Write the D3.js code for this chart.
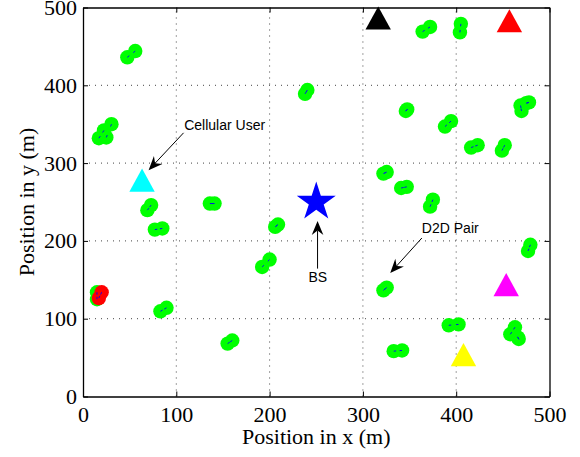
<!DOCTYPE html>
<html>
<head>
<meta charset="utf-8">
<script src="https://cdn.jsdelivr.net/npm/d3@7"></script>
<style>
html,body{margin:0;padding:0;background:#fff;}
svg{display:block;}
svg text.serif{font-family:"Liberation Serif","Times New Roman",Times,serif !important;}
svg text.sans{font-family:"Liberation Sans",Arial,Helvetica,sans-serif !important;}
</style>
</head>
<body>
<svg id="chart" width="580" height="457"></svg>
<script>
// ---- data ----
const xTicks = [0, 100, 200, 300, 400, 500];
const yTicks = [0, 100, 200, 300, 400, 500];
const xLabel = "Position in x (m)";
const yLabel = "Position in y (m)";

// D2D pairs (transmitter / receiver positions, m)
const d2dTxX = [47.5, 17, 25, 238, 322, 364, 404, 346, 388, 416, 449, 470, 475, 341, 372, 69, 77, 136, 15, 83, 155, 206, 192, 322, 333, 477, 392, 463, 467];
const d2dTxY = [436, 332, 333, 389, 286.5, 469, 468, 367, 347, 320, 316, 367, 377, 268, 244, 239.5, 214.5, 248, 134, 109.5, 68, 218, 166.5, 136.5, 58.3, 187, 91.5, 89, 74];
const d2dRxX = [56, 22.5, 30.5, 240.5, 325.5, 372, 405, 347.5, 394.5, 423, 452, 469, 478, 347, 375, 73, 85, 141, 15, 89.5, 160, 209, 200, 325.5, 342, 479.5, 402.5, 458, 466];
const d2dRxY = [444, 342, 350, 394, 288.5, 475, 479, 369, 354, 323, 323, 374, 378, 269.5, 253, 246, 216, 248, 125, 114, 72, 221, 176, 140, 59.2, 195, 92.7, 80, 76];

// highlighted (red) D2D pair
const redTxX = [20];
const redTxY = [134];
const redRxX = [17];
const redRxY = [126.5];

// cellular users
const userX = [63.3, 316.4, 457, 453.6, 407.8];
const userY = [278, 486.5, 483, 143.8, 53.7];

// base station
const bsX = [250];
const bsY = [250];

// annotations: text, text anchor point, arrow start, arrow tip (data coords)
const annoText = ["Cellular User", "BS", "D2D Pair"];
const annoTextX = [108.5, 251.6, 363.2];
const annoTextY = [342, 147.1, 209.8];
const annoFromX = [107.8, 251.4, 363.2];
const annoFromY = [338.9, 164.4, 203.7];
const annoToX = [70.3, 251.4, 329.3];
const annoToY = [290.9, 225.6, 158.7];

// ---- styles ----
const userColors = ["#00ffff", "#000000", "#ff0000", "#ff00ff", "#ffff00"];
const annoAnchor = ["start", "middle", "start"];
const serifFont = "Liberation Serif, Times New Roman, Times, serif";
const sansFont = "Liberation Sans, Arial, Helvetica, sans-serif";

const svg = d3.select("#chart");
const x = d3.scaleLinear().domain([0, 500]).range([83, 549.5]);
const y = d3.scaleLinear().domain([0, 500]).range([396.5, 7.5]);
const x0 = x(0), x1 = x(500), y0 = y(0), y1 = y(500);

// grid
const grid = svg.append("g").attr("stroke", "#444").attr("stroke-width", 1)
  .attr("stroke-dasharray", "1,5").attr("fill", "none");
xTicks.filter(v => v > 0 && v < 500).forEach(v => {
  grid.append("line").attr("x1", x(v)).attr("x2", x(v)).attr("y1", y0).attr("y2", y1);
});
yTicks.filter(v => v > 0 && v < 500).forEach(v => {
  grid.append("line").attr("x1", x0).attr("x2", x1).attr("y1", y(v)).attr("y2", y(v));
});

// axes
const gB = svg.append("g").attr("transform", `translate(0,${y0})`)
  .call(d3.axisBottom(x).tickValues(xTicks).tickSizeInner(-5).tickSizeOuter(0).tickPadding(10));
const gL = svg.append("g").attr("transform", `translate(${x0},0)`)
  .call(d3.axisLeft(y).tickValues(yTicks).tickSizeInner(-5).tickSizeOuter(0).tickPadding(6));
const gT = svg.append("g").attr("transform", `translate(0,${y1})`)
  .call(d3.axisTop(x).tickValues(xTicks).tickSizeInner(-5).tickSizeOuter(0).tickFormat(""));
const gR = svg.append("g").attr("transform", `translate(${x1},0)`)
  .call(d3.axisRight(y).tickValues(yTicks).tickSizeInner(-5).tickSizeOuter(0).tickFormat(""));
[gB, gL, gT, gR].forEach(g => {
  g.attr("font-family", serifFont).attr("font-size", 22);
  g.select(".domain").attr("stroke", "#000").attr("stroke-width", 1.3);
  g.selectAll(".tick line").attr("stroke", "#000").attr("stroke-width", 1);
  g.selectAll(".tick text").attr("class", "serif").attr("fill", "#000")
    .attr("font-family", serifFont).attr("font-size", 22);
});

// D2D pairs
const pairs = d2dTxX.map((v, i) => ({ tx: v, ty: d2dTxY[i], rx: d2dRxX[i], ry: d2dRxY[i], c: "#00ff00" }))
  .concat(redTxX.map((v, i) => ({ tx: v, ty: redTxY[i], rx: redRxX[i], ry: redRxY[i], c: "#ff0000" })));
const gp = svg.append("g");
pairs.forEach(p => {
  gp.append("circle").attr("cx", x(p.tx)).attr("cy", y(p.ty)).attr("r", 7.2).attr("fill", p.c);
  gp.append("circle").attr("cx", x(p.rx)).attr("cy", y(p.ry)).attr("r", 7.2).attr("fill", p.c);
});
pairs.forEach(p => {
  const ax = x(p.tx), ay = y(p.ty), bx = x(p.rx), by = y(p.ry);
  let dx = bx - ax, dy = by - ay; const L = Math.hypot(dx, dy) || 1; dx /= L; dy /= L;
  [[ax, ay, 1], [bx, by, -1]].forEach(([cx, cy, s]) => {
    gp.append("line").attr("x1", cx).attr("y1", cy).attr("x2", cx + s * dx * 2.5).attr("y2", cy + s * dy * 2.5)
      .attr("stroke", "#0000ff").attr("stroke-width", 0.9);
  });
});

// cellular users (triangles)
userX.forEach((v, i) => {
  const cx = x(v), cy = y(userY[i]);
  svg.append("path").attr("d", `M${cx},${cy - 11.6}L${cx + 12.7},${cy + 11.6}L${cx - 12.7},${cy + 11.6}Z`)
    .attr("fill", userColors[i]);
});

// base station (star)
bsX.forEach((v, i) => {
  const cx = x(v), cy = y(bsY[i]);
  const R = 20.5, r = R * 0.382;
  const pts = d3.range(10).map(k => {
    const a = -Math.PI / 2 + k * Math.PI / 5, rr = k % 2 ? r : R;
    return [cx + rr * Math.cos(a), cy + rr * Math.sin(a)];
  });
  svg.append("path").attr("d", "M" + pts.join("L") + "Z").attr("fill", "#0000ff");
});

// annotations
annoText.forEach((t, i) => {
  const fx = x(annoFromX[i]), fy = y(annoFromY[i]), tx = x(annoToX[i]), ty = y(annoToY[i]);
  let dx = tx - fx, dy = ty - fy; const L = Math.hypot(dx, dy); dx /= L; dy /= L;
  const hl = 14, hw = 5.8, notch = 9.5;
  const px = -dy, py = dx;
  const bx = tx - dx * hl, by = ty - dy * hl;
  const nx = tx - dx * notch, ny = ty - dy * notch;
  svg.append("line").attr("x1", fx).attr("y1", fy).attr("x2", nx).attr("y2", ny)
    .attr("stroke", "#000").attr("stroke-width", 1);
  svg.append("path")
    .attr("d", `M${tx},${ty}L${bx + px * hw},${by + py * hw}L${nx},${ny}L${bx - px * hw},${by - py * hw}Z`)
    .attr("fill", "#000");
  svg.append("text").attr("class", "sans").attr("x", x(annoTextX[i])).attr("y", y(annoTextY[i]))
    .attr("text-anchor", annoAnchor[i]).attr("font-family", sansFont).attr("font-size", 14)
    .attr("fill", "#000").text(t);
});

// axis labels
svg.append("text").attr("class", "serif").attr("x", (x0 + x1) / 2).attr("y", 444).attr("text-anchor", "middle")
  .attr("font-family", serifFont).attr("font-size", 22).attr("fill", "#000").text(xLabel);
svg.append("text").attr("class", "serif").attr("transform", `translate(33.5,${(y0 + y1) / 2}) rotate(-90)`).attr("text-anchor", "middle")
  .attr("font-family", serifFont).attr("font-size", 22).attr("fill", "#000").text(yLabel);
</script>
</body>
</html>
